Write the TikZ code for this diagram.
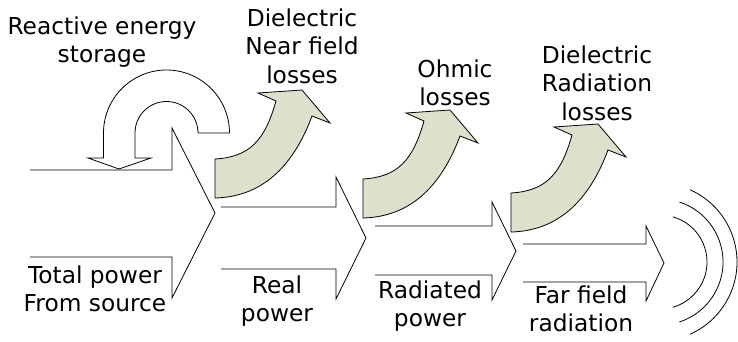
\documentclass[tikz,border=0pt]{standalone}
\usepackage{fontspec}
\setmainfont{DejaVu Sans}
\usepackage{tikz}
\definecolor{lossgreen}{RGB}{221,224,203}

\begin{document}
\begin{tikzpicture}[
    x=1pt, y=-1pt,
    font=\fontsize{23.3}{28.5}\selectfont,
    flow/.style={draw=black, line width=0.8pt, line join=miter},
    loss/.style={draw=black, line width=0.8pt, fill=lossgreen},
    wave/.style={draw=black, line width=0.8pt},
    lbl/.style={anchor=north, align=center, inner sep=0pt},
  ]
    \useasboundingbox (0,0) rectangle (738,341);

    %── Power flow: open outline arrows ────────────────────────────────
    \draw[flow] (30,170) -- (172,170) -- (172,128) -- (215,213)
      -- (172,298) -- (172,257) -- (30,257);
    \draw[flow] (221,207) -- (336,207) -- (336,177) -- (366,238)
      -- (336,299) -- (336,269) -- (221,269);
    \draw[flow] (375,226) -- (492,226) -- (492,202) -- (516,251)
      -- (492,300) -- (492,275) -- (375,275);
    \draw[flow] (523,244) -- (646,244) -- (646,226) -- (664,263)
      -- (646,301) -- (646,282) -- (523,282);

    %── Reactive storage: U-turn arrow ─────────────────────────────────
    \draw[flow] (198,133) -- (229.5,133)
      arc[start angle=0, end angle=-180, radius=63]
      -- (103.5,158) -- (88,158) -- (119,169) -- (151,158) -- (135,158)
      -- (135,133) arc[start angle=-180, end angle=0, radius=31.5] -- cycle;

    %── Loss arrows (same shape, shifted) ──────────────────────────────
    \foreach \dx/\dy in {0/0, 148/20, 296/34}
      \draw[loss, shift={(\dx,\dy)}]
        (215,159) .. controls (250,157) and (265,140) .. (276,101)
        -- (258,93) -- (302,90) -- (330,123) -- (312,116)
        .. controls (290,175) and (255,197) .. (215,198) -- cycle;

    %── Radiated waves ─────────────────────────────────────────────────
    \draw[wave] (660,262) ++(-74:47) arc[start angle=-74, end angle=74, radius=47];
    \draw[wave] (660,262) ++(-72:63) arc[start angle=-72, end angle=72, radius=63];
    \draw[wave] (658,262) ++(-66:79) arc[start angle=-66, end angle=66, radius=79];

    %── Labels ─────────────────────────────────────────────────────────
    \node[lbl] (store)    at (102,16.5)  {Reactive energy\\storage};
    \node[lbl] (nearloss) at (302,8.5)   {Dielectric\\Near field\\losses};
    \node[lbl] (ohmloss)  at (455,59.5)  {Ohmic\\losses};
    \node[lbl] (radloss)  at (597,45.5)  {Dielectric\\Radiation\\losses};
    \node[lbl] (total)    at (95,265.5)  {Total power\\From source};
    \node[lbl] (real)     at (277,275.5) {Real\\power};
    \node[lbl] (radiated) at (430,280.5) {Radiated\\power};
    \node[lbl] (farfield) at (581,285.5) {Far field\\radiation};

\end{tikzpicture}
\end{document}
